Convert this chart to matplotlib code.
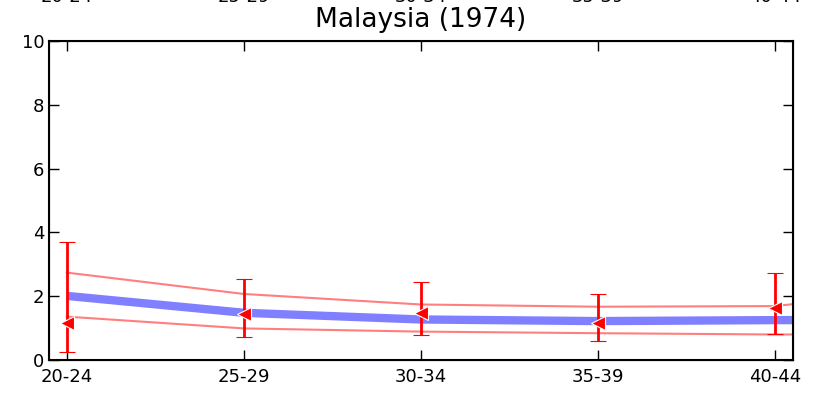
import numpy as np
import matplotlib
matplotlib.use("Agg")
import matplotlib.pyplot as plt

# age groups (last one only runs off the right edge)
age_groups = ["20-24", "25-29", "30-34", "35-39", "40-44", "45-49"]
shown_groups = age_groups[:5]

# model fit and band
fit_mid = [2.01, 1.48, 1.27, 1.22, 1.25, 1.26]
fit_upper = [2.74, 2.07, 1.74, 1.67, 1.69, 2.30]
fit_lower = [1.36, 0.99, 0.89, 0.84, 0.80, 0.80]

# observed points with asymmetric errors
obs = [1.17, 1.43, 1.46, 1.17, 1.64]
obs_low = [0.25, 0.71, 0.79, 0.61, 0.80]
obs_high = [3.69, 2.53, 2.43, 2.07, 2.72]

plt.rcParams['font.family'] = ['DejaVu Sans']

fig = plt.figure(figsize=(8.14, 3.93), dpi=100)
ax = fig.add_axes([49 / 814, 1 - 360 / 393, 744 / 814, 319 / 393])

x = np.arange(len(age_groups))
xo = np.arange(len(obs))

ax.plot(x, fit_mid, color='blue', alpha=0.5, linewidth=6, solid_capstyle='butt')
ax.plot(x, fit_upper, color='red', alpha=0.5, linewidth=1.5)
ax.plot(x, fit_lower, color='red', alpha=0.5, linewidth=1.5)

obs = np.array(obs)
yerr = [obs - np.array(obs_low), np.array(obs_high) - obs]
ax.errorbar(xo, obs, yerr=yerr, fmt='<', color='red', ecolor='red',
            elinewidth=2, capsize=6, capthick=2, markersize=10,
            markeredgecolor='white', markeredgewidth=0.8, zorder=5)

ax.set_xlim(-0.1, 4.1)
ax.set_ylim(0, 10)
ax.set_xticks(xo)
ax.set_xticklabels(shown_groups)
ax.set_yticks([0, 2, 4, 6, 8, 10])

for s in ax.spines.values():
    s.set_linewidth(1.5)

ax.tick_params(axis='both', direction='in', length=7, width=1, labelsize=13,
               top=True, right=True)
ax.tick_params(axis='x', pad=6)

# top copy of the labels, sitting above the title
top = ax.twiny()
top.set_xlim(ax.get_xlim())
top.set_xticks(xo)
top.set_xticklabels(shown_groups)
top.tick_params(axis='x', direction='in', length=7, width=1, labelsize=13, pad=25.5)

ax.set_title("Malaysia (1974)", fontsize=19, y=1.0, pad=10)

fig.savefig("out.png", dpi=100)
